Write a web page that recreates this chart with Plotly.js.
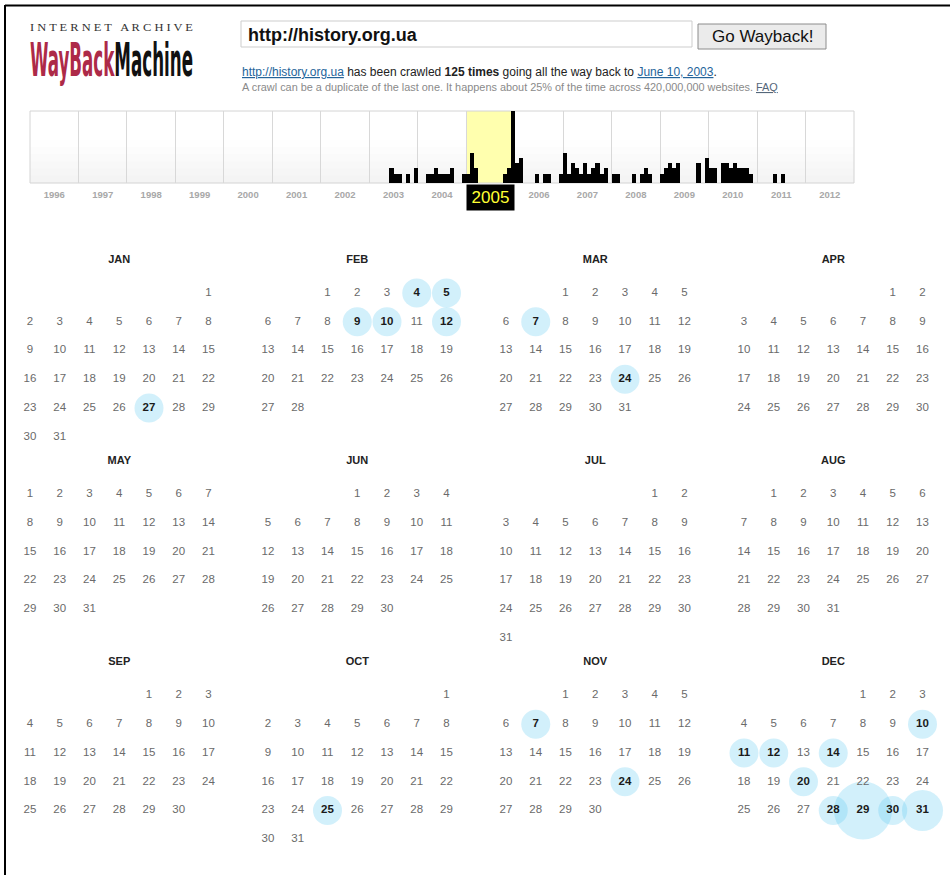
<!DOCTYPE html>
<html><head><meta charset="utf-8">
<script src="https://cdn.plot.ly/plotly-3.0.1.min.js"></script>
<style>html,body{margin:0;padding:0;background:#fff;}#chart{width:950px;height:875px;}</style>
</head><body><div id="chart"></div>
<script>
// ---------------- data ----------------
const siteUrl = 'http://history.org.ua';
const captureTotal = 125;
const firstCapture = 'June 10, 2003';
const selectedYear = 2005;
const years = [1996,1997,1998,1999,2000,2001,2002,2003,2004,2005,2006,2007,2008,2009,2010,2011,2012];
const emptyYear = [0,0,0,0,0,0,0,0,0,0,0,0];
// monthly captures (Jan..Dec)
const cap2003 = [0,0,0,0,0,2,1,1,0,1,0,2];
const cap2004 = [0,0,1,1,2,1,1,1,2,0,0,1];
const cap2005 = [1,5,2,0,0,0,0,0,0,1,2,13];
const cap2006 = [3,4,0,0,0,1,0,1,1,0,0,1];
const cap2007 = [5,1,3,2,1,3,1,2,3,1,2,0];
const cap2008 = [1,1,0,0,0,1,0,1,2,1,0,0];
const cap2009 = [1,2,3,2,3,0,0,0,0,3,0,4];
const cap2010 = [2,2,0,3,3,2,3,2,2,2,1,0];
const cap2011 = [0,0,0,0,1,0,1,0,0,0,0,0];
const yearCaptures = [emptyYear,emptyYear,emptyYear,emptyYear,emptyYear,emptyYear,emptyYear,
  cap2003,cap2004,cap2005,cap2006,cap2007,cap2008,cap2009,cap2010,cap2011,emptyYear];
const monthNames = ['JAN','FEB','MAR','APR','MAY','JUN','JUL','AUG','SEP','OCT','NOV','DEC'];
// captured days in 2005
const capMonth = [1, 2,2,2,2,2, 3,3, 10, 11,11, 12,12,12,12,12,12,12,12,12];
const capDay   = [27, 4,5,9,10,12, 7,24, 25, 7,24, 10,11,12,14,20,28,29,30,31];
const capCount = [1, 1,1,1,1,1, 1,1, 1, 1,1, 1,1,1,1,1,1,4,1,2];

// ---------------- layout helpers ----------------
const W = 950, H = 875;
const px = v => v / W, py = v => 1 - v / H;
const FONT = 'Arial, "Liberation Sans", sans-serif';
const SPARK_FLOOR = 0.8;   // visual floor of sparkline bars

// sparkline bars
const barX = [], barY = [];
years.forEach((yr, i) => {
  yearCaptures[i].forEach((c, m) => {
    if (c > 0) { barX.push(yr + (m + 0.5) / 12); barY.push(c + SPARK_FLOOR); }
  });
});
const maxBar = Math.max(...barY);

// calendar cells
const capKey = {};
capMonth.forEach((m, i) => { capKey[m + '-' + capDay[i]] = capCount[i]; });
const cellPos = (m, d) => {
  const first = new Date(selectedYear, m - 1, 1).getDay();
  const idx = first + d - 1;
  return { x: ((m - 1) % 4) * 8 + idx % 7, y: Math.floor((m - 1) / 4) * 7 + Math.floor(idx / 7) };
};
const dayX = [], dayY = [], dayT = [];
const hiX = [], hiY = [], hiT = [], hiS = [];
for (let m = 1; m <= 12; m++) {
  const nd = new Date(selectedYear, m, 0).getDate();
  for (let d = 1; d <= nd; d++) {
    const p = cellPos(m, d);
    if (capKey[m + '-' + d]) { hiX.push(p.x); hiY.push(p.y); hiT.push('<b>' + d + '</b>'); hiS.push(capKey[m + '-' + d]); }
    else { dayX.push(p.x); dayY.push(p.y); dayT.push(String(d)); }
  }
}
const headX = monthNames.map((n, i) => (i % 4) * 8 + 3);
const headY = monthNames.map((n, i) => Math.floor(i / 4) * 7 - 1.15);

const traces = [
  { type: 'bar', x: barX, y: barY, width: 1 / 12, xaxis: 'x', yaxis: 'y',
    marker: { color: '#000', line: { width: 0 } }, hoverinfo: 'skip' },
  { type: 'scatter', mode: 'markers', x: hiX, y: hiY, xaxis: 'x2', yaxis: 'y2', hoverinfo: 'skip',
    marker: { size: hiS, sizemode: 'area', sizeref: 2 / 841, color: 'rgba(93,200,240,0.4)', line: { width: 0 } }, cliponaxis: false },
  { type: 'scatter', mode: 'text', x: dayX, y: dayY, text: dayT, xaxis: 'x2', yaxis: 'y2', hoverinfo: 'skip',
    textposition: 'middle center', textfont: { family: FONT, size: 11.5, color: '#6a6a6a' }, cliponaxis: false },
  { type: 'scatter', mode: 'text', x: hiX, y: hiY, text: hiT, xaxis: 'x2', yaxis: 'y2', hoverinfo: 'skip',
    textposition: 'middle center', textfont: { family: FONT, size: 11.5, color: '#1a1a1a' }, cliponaxis: false },
  { type: 'scatter', mode: 'text', x: headX, y: headY, text: monthNames.map(n => '<b>' + n + '</b>'), xaxis: 'x2', yaxis: 'y2',
    hoverinfo: 'skip', textposition: 'middle center', textfont: { family: FONT, size: 11, color: '#222' }, cliponaxis: false }
];

const shapes = [];
// sparkline background gradient
const bands = ['#fefefe','#fcfcfc','#fafafa','#f8f8f8','#f6f6f6','#f4f4f4'];
bands.forEach((c, i) => shapes.push({ type: 'rect', xref: 'x domain', yref: 'y domain', x0: 0, x1: 1,
  y0: 0, y1: 0.6 - i * 0.1, fillcolor: c, line: { width: 0 }, layer: 'below' }));
shapes.push({ type: 'rect', xref: 'x', yref: 'y domain', x0: selectedYear, x1: selectedYear + 1, y0: 0, y1: 1,
  fillcolor: '#ffffae', line: { width: 0 }, layer: 'below' });
shapes.push({ type: 'rect', xref: 'x domain', yref: 'y domain', x0: 0, x1: 1, y0: 0, y1: 1,
  fillcolor: 'rgba(0,0,0,0)', line: { color: '#d4d4d4', width: 1 }, layer: 'below' });
// url field and button
shapes.push({ type: 'rect', xref: 'paper', yref: 'paper', x0: px(241), x1: px(692), y0: py(47), y1: py(21),
  fillcolor: '#fff', line: { color: '#cdcdcd', width: 1 } });
shapes.push({ type: 'rect', xref: 'paper', yref: 'paper', x0: px(698), x1: px(826), y0: py(49), y1: py(24),
  fillcolor: '#ebebeb', line: { color: '#8c8c8c', width: 1 } });
// page frame
shapes.push({ type: 'line', xref: 'paper', yref: 'paper', x0: px(5), x1: 1, y0: py(5.5), y1: py(5.5), line: { color: '#000', width: 2 } });
shapes.push({ type: 'line', xref: 'paper', yref: 'paper', x0: px(5), x1: px(5), y0: py(5), y1: 0, line: { color: '#000', width: 2 } });

const link = 'color:#24649a;text-decoration:underline';
const annotations = [
  { xref: 'paper', yref: 'paper', x: px(30), y: py(27.5), xanchor: 'left', yanchor: 'middle', showarrow: false,
    text: 'I N T E R N E T \u00a0 A R C H I V E', font: { family: '"Liberation Serif", serif', size: 10.5, color: '#333' } },
  { xref: 'paper', yref: 'paper', x: px(30), y: py(60), xanchor: 'left', yanchor: 'middle', showarrow: false,
    text: '<b>WayBack</b><span style="color:#111"><b>Machine</b></span>',
    font: { family: '"Liberation Sans Narrow", "DejaVu Sans Condensed", sans-serif', size: 40, color: '#ad2a48' } },
  { xref: 'paper', yref: 'paper', x: px(246), y: py(35), xanchor: 'left', yanchor: 'middle', showarrow: false,
    text: '<b>' + siteUrl + '</b>', font: { family: FONT, size: 18, color: '#111' } },
  { xref: 'paper', yref: 'paper', x: px(762), y: py(36.5), xanchor: 'center', yanchor: 'middle', showarrow: false,
    text: 'Go Wayback!', font: { family: FONT, size: 17, color: '#111' } },
  { xref: 'paper', yref: 'paper', x: px(240), y: py(72), xanchor: 'left', yanchor: 'middle', showarrow: false,
    text: '<span style="' + link + '">' + siteUrl + '</span> has been crawled <b>' + captureTotal +
      ' times</b> going all the way back to <span style="' + link + '">' + firstCapture + '</span>.',
    font: { family: FONT, size: 12, color: '#222' } },
  { xref: 'paper', yref: 'paper', x: px(240), y: py(87), xanchor: 'left', yanchor: 'middle', showarrow: false,
    text: 'A crawl can be a duplicate of the last one. It happens about 25% of the time across 420,000,000 websites. ' +
      '<span style="color:#55677a;text-decoration:underline">FAQ</span>',
    font: { family: FONT, size: 10.9, color: '#8a8a8a' } },
  { xref: 'x', yref: 'paper', x: selectedYear + 0.5, y: py(197.5), xanchor: 'center', yanchor: 'middle', showarrow: false,
    text: String(selectedYear), width: 47, height: 25, borderpad: 0, bgcolor: '#000',
    font: { family: FONT, size: 17, color: '#ffff33' } }
];

const layout = {
  width: W, height: H, margin: { l: 0, r: 0, t: 0, b: 0 }, showlegend: false,
  paper_bgcolor: '#fff', plot_bgcolor: 'rgba(0,0,0,0)', bargap: 0,
  xaxis: { domain: [px(30), px(854)], range: [years[0], years[years.length - 1] + 1], anchor: 'y',
    tickmode: 'array', tickvals: years.map(y => y + 0.5), ticktext: years.map(y => y === selectedYear ? '' : String(y)),
    showgrid: false, zeroline: false, showline: false, ticks: '', fixedrange: true, ticklabelstandoff: 4,
    tickfont: { family: FONT, size: 9.5, color: '#a8a8a8', weight: 'bold' },
    minor: { dtick: 1, tick0: years[0], showgrid: true, gridcolor: '#d8d8d8', gridwidth: 1, ticks: '' } },
  yaxis: { domain: [py(183), py(111)], range: [0, maxBar], anchor: 'x', visible: false, fixedrange: true },
  xaxis2: { domain: [0, 1], range: [-30 / 29.75, (W - 30) / 29.75], anchor: 'y2', visible: false, fixedrange: true },
  yaxis2: { domain: [0, 1], range: [(H - 293) / 28.75, -293 / 28.75], anchor: 'x2', visible: false, fixedrange: true },
  shapes: shapes, annotations: annotations
};

function fitText(idx, left, width, sy) {
  const g = document.querySelector('.annotation[data-index="' + idx + '"]');
  if (!g) return;
  const t = g.querySelector('text');
  if (!t) return;
  const bb = t.getBBox();
  const r = t.getBoundingClientRect();
  const host = document.getElementById('chart').getBoundingClientRect();
  const sx = width / bb.width;
  const dx = (host.left + left) - r.left;
  const cy = bb.y + bb.height / 2;
  t.setAttribute('transform', 'translate(' + (bb.x + dx) + ',' + cy + ') scale(' + sx + ',' + sy + ') translate(' + (-bb.x) + ',' + (-cy) + ')');
}

Plotly.newPlot('chart', traces, layout, { staticPlot: true, displayModeBar: false }).then(() => {
  fitText(0, 30, 163, 1);
  fitText(1, 30, 163, 1.15);
});
</script></body></html>
